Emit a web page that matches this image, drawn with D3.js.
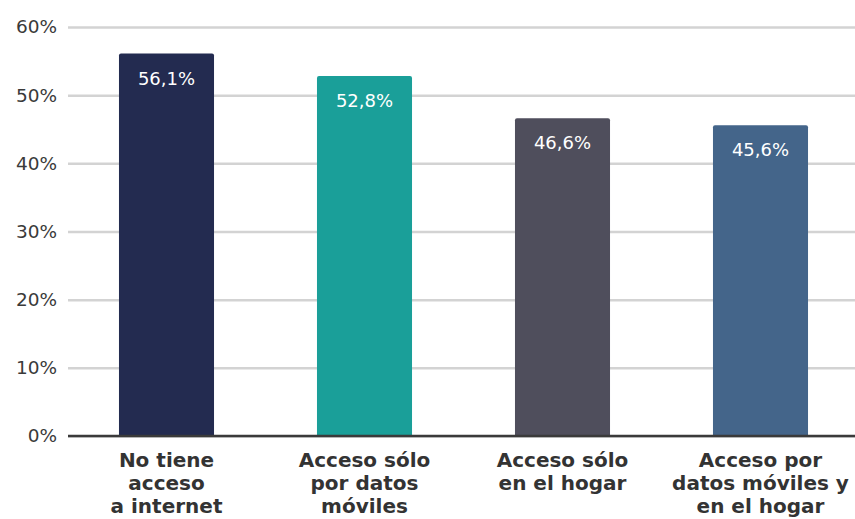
<!DOCTYPE html>
<html><head><meta charset="utf-8">
<script src="https://cdn.jsdelivr.net/npm/d3@7"></script>
<style>body{margin:0;background:#fff}svg{display:block}</style>
</head><body>
<svg id="c" width="855" height="519"></svg>
<script>
const categories = [["No tiene","acceso","a internet"],["Acceso sólo","por datos","móviles"],["Acceso sólo","en el hogar"],["Acceso por","datos móviles y","en el hogar"]];
const values = [56.1, 52.8, 46.6, 45.6];
const valueLabels = ["56,1%","52,8%","46,6%","45,6%"];
const colors = ["#232b50","#1a9f99","#4f4e5c","#44658a"];
const yTicks = [0,10,20,30,40,50,60];

const svg = d3.select("#c");
const font = "'DejaVu Sans', sans-serif";
const x0 = 68, xEnd = 855, yTop = 27, yBot = 436;
const x = d3.scaleBand().domain(d3.range(values.length)).range([67.5, 859.5]).paddingInner(0.52).paddingOuter(0.26);
const y = d3.scaleLinear().domain([0,60]).range([yBot, yTop]);

const yAxis = svg.append("g").attr("transform",`translate(${x0},0)`)
  .call(d3.axisLeft(y).tickValues(yTicks).tickFormat(d=>d+"%").tickSize(-(xEnd-x0)).tickPadding(11));
yAxis.select(".domain").remove();
yAxis.selectAll(".tick line").attr("stroke","#d3d3d3").attr("stroke-width",2.5);
yAxis.selectAll(".tick text").attr("fill","#3a3a3a").style("font-family",font).style("font-size","18.5px");

const r = 2;
svg.selectAll("path.bar").data(values).join("path").attr("class","bar")
  .attr("fill",(d,i)=>colors[i])
  .attr("d",(d,i)=>{
    const L=x(i), W=x.bandwidth(), T=y(d), B=y(0);
    return `M${L},${B}V${T+r}Q${L},${T} ${L+r},${T}H${L+W-r}Q${L+W},${T} ${L+W},${T+r}V${B}Z`;
  });

svg.selectAll("text.val").data(values).join("text").attr("class","val")
  .attr("x",(d,i)=>x(i)+x.bandwidth()/2).attr("y",d=>y(d)+31)
  .attr("text-anchor","middle").attr("fill","#fff")
  .style("font-family",font).style("font-size","18px").text((d,i)=>valueLabels[i]);

svg.append("line").attr("x1",x0).attr("x2",xEnd).attr("y1",y(0)).attr("y2",y(0))
  .attr("stroke","#3a3a3a").attr("stroke-width",2.5);

const cat = svg.selectAll("text.cat").data(categories).join("text").attr("class","cat")
  .attr("text-anchor","middle").attr("fill","#333")
  .style("font-family",font).style("font-size","20px").style("font-weight","bold");
cat.each(function(lines,i){
  const t=d3.select(this);
  lines.forEach((ln,j)=>t.append("tspan").attr("x",x(i)+x.bandwidth()/2).attr("y",467+j*23).text(ln));
});
</script>
</body></html>
